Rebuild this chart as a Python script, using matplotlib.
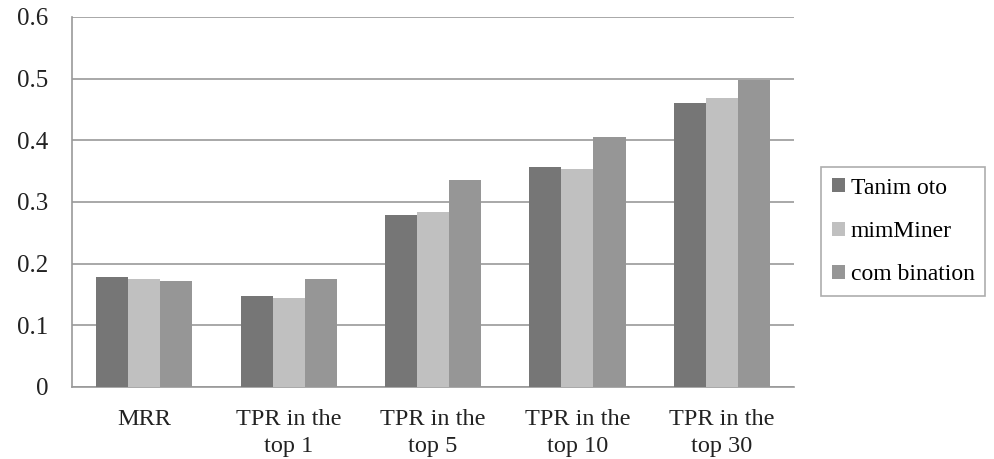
import matplotlib

matplotlib.use("Agg")
import matplotlib.pyplot as plt
import numpy as np

categories = ["MRR", "TPR in the\ntop 1", "TPR in the\ntop 5", "TPR in the\ntop 10", "TPR in the\ntop 30"]
series_names = ["Tanim oto", "mimMiner", "com bination"]
tanimoto = [0.178, 0.148, 0.279, 0.357, 0.461]
mimminer = [0.175, 0.144, 0.283, 0.354, 0.468]
combination = [0.172, 0.175, 0.335, 0.406, 0.498]
colors = ["#767676", "#c0c0c0", "#969696"]

plt.rcParams["font.family"] = ["Liberation Serif", "DejaVu Serif"]

fig = plt.figure(figsize=(9.95, 4.59), dpi=100)
ax = fig.add_axes([0.0724, 0.157, 0.7256, 0.806])

x = np.arange(len(categories))
width = 0.222
for i, (vals, name, col) in enumerate(zip([tanimoto, mimminer, combination], series_names, colors)):
    ax.bar(x + (i - 1) * width, vals, width, color=col, label=name, zorder=3)

ax.set_xlim(-0.5, len(categories) - 0.5)
ax.set_ylim(0, 0.6)
ax.set_yticks(np.arange(0, 0.61, 0.1))
ax.set_yticklabels(["0", "0.1", "0.2", "0.3", "0.4", "0.5", "0.6"], fontsize=18, color="#222222")
ax.set_xticks(x)
ax.set_xticklabels(categories, fontsize=17.5, color="#222222", linespacing=1.35)
ax.tick_params(axis="x", length=0, pad=16)
ax.tick_params(axis="y", length=0, pad=17)
ax.grid(axis="y", color="#999999", linewidth=1.2, zorder=0)
for side in ("top", "right"):
    ax.spines[side].set_visible(False)
ax.spines["left"].set_color("#999999")
ax.spines["bottom"].set_color("#999999")
ax.spines["left"].set_linewidth(1.2)
ax.spines["bottom"].set_linewidth(1.2)

leg = ax.legend(loc="center left", bbox_to_anchor=(1.038, 0.42), fontsize=17, frameon=True,
                fancybox=False, edgecolor="#999999", handlelength=0.55, handleheight=0.55,
                handletextpad=0.25, labelspacing=0.95, borderpad=0.45, borderaxespad=0)
leg.get_frame().set_linewidth(1.2)

fig.savefig("out.png", dpi=100)
